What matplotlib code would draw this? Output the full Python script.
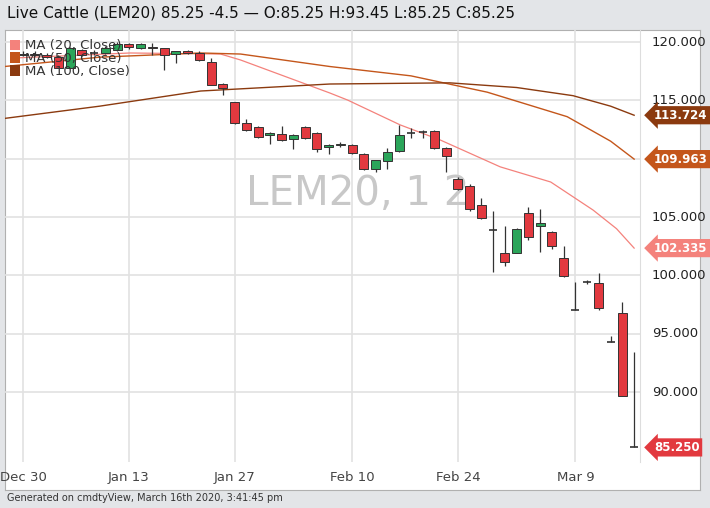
import matplotlib
matplotlib.use("Agg")
import matplotlib.pyplot as plt
from matplotlib.patches import Rectangle

dates = ["Dec 30","Dec 31","Jan 2","Jan 3","Jan 6","Jan 7","Jan 8","Jan 9","Jan 10","Jan 13","Jan 14","Jan 15","Jan 16","Jan 17",
         "Jan 21","Jan 22","Jan 23","Jan 24","Jan 27","Jan 28","Jan 29","Jan 30","Jan 31","Feb 3","Feb 4","Feb 5","Feb 6","Feb 7",
         "Feb 10","Feb 11","Feb 12","Feb 13","Feb 14","Feb 18","Feb 19","Feb 20","Feb 21","Feb 24","Feb 25","Feb 26","Feb 27","Feb 28",
         "Mar 2","Mar 3","Mar 4","Mar 5","Mar 6","Mar 9","Mar 10","Mar 11","Mar 12","Mar 13","Mar 16"]
opens  = [118.9,119.0,118.9,118.7,117.8,119.3,119.1,119.1,119.3,119.8,119.5,119.6,119.5,118.97,119.2,119.1,118.3,116.4,114.85,113.1,112.7,112.0,112.1,111.7,112.7,112.2,111.0,111.2,
          111.2,110.4,109.1,109.8,110.65,112.2,112.3,112.4,110.9,108.3,107.7,106.0,103.85,101.9,101.9,105.35,104.2,103.7,101.5,97.05,99.45,99.35,94.3,96.8,85.25]
highs  = [119.2,119.2,119.1,118.9,119.6,119.4,119.3,119.7,120.0,119.9,119.9,119.9,119.5,119.2,119.3,119.2,118.6,116.5,114.9,113.4,112.8,112.3,112.8,112.1,112.8,112.3,111.3,111.4,
          111.3,110.5,109.8,110.9,112.9,112.6,112.5,112.5,111.0,108.4,107.8,106.6,105.5,104.2,104.1,105.9,105.7,103.8,102.5,99.4,99.6,100.2,94.8,97.7,93.45]
lows   = [118.8,118.8,118.6,118.5,117.8,118.8,118.9,119.0,119.2,119.4,119.4,118.9,117.6,118.2,119.0,118.4,116.3,115.5,113.0,112.4,111.8,111.3,111.5,110.8,111.7,110.6,110.4,111.0,
          110.4,109.0,108.9,109.1,110.6,111.8,111.8,110.8,108.9,107.3,105.5,104.8,100.3,100.8,101.9,103.0,102.0,102.3,99.9,97.0,99.3,97.0,94.3,89.7,85.25]
closes = [119.0,118.9,118.7,117.8,119.5,118.9,119.1,119.5,119.8,119.6,119.8,119.5,118.9,119.2,119.06,118.45,116.3,116.05,113.06,112.45,111.9,112.2,111.6,112.0,111.8,110.8,111.2,111.3,
          110.5,109.1,109.9,110.6,112.0,112.2,112.3,110.9,110.2,107.4,105.7,104.9,103.8,101.15,104.0,103.3,104.5,102.5,99.95,97.0,99.45,97.2,94.3,89.7,85.25]

ma20_x = [-0.77,9.1,16.8,18.5,26.1,27.6,32.1,35.5,40.6,44.9,48.5,50.5,52.0]
ma20_y = [118.63,119.06,118.97,118.46,115.63,115.03,112.89,111.6,109.3,108.0,105.6,104.0,102.335]
ma50_x = [-1.6,6.5,15.1,18.5,26.1,33.0,39.5,46.3,50.0,52.0]
ma50_y = [117.9,118.7,119.06,118.97,117.9,117.1,115.7,113.6,111.5,109.963]
ma100_x = [-1.6,6.5,15.1,26.1,36.3,42.0,46.8,50.0,52.0]
ma100_y = [113.45,114.5,115.8,116.4,116.5,116.1,115.4,114.5,113.724]

tick_idx = [0,9,18,28,37,47]
tick_lab = ["Dec 30","Jan 13","Jan 27","Feb 10","Feb 24","Mar 9"]
yticks = [90,95,100,105,110,115,120]

RED, GREEN = "#e2393f", "#2ba55a"
C20, C50, C100 = "#f4827c", "#c4561b", "#8b3a0f"

W, H = 710, 508
fig = plt.figure(figsize=(W/100, H/100), dpi=100, facecolor="#e3e5e8")
bg = fig.add_axes([5/W, 18/H, 695/W, 460/H], zorder=0)
bg.set_facecolor("white")
bg.set_xticks([]); bg.set_yticks([])
for s in bg.spines.values():
    s.set_color("#b0b0b0"); s.set_linewidth(0.8)

ax = fig.add_axes([5/W, 46/H, 635/W, 432/H], zorder=1)
ax.patch.set_alpha(0)
ax.set_xlim(-1.55, 52.5)
ax.set_ylim(84.0, 121.03)
for s in ["top", "left", "bottom"]:
    ax.spines[s].set_visible(False)
ax.spines["right"].set_color("#dddddd")
ax.set_xticks(tick_idx)
ax.set_xticklabels([])
ax.set_yticks(yticks)
ax.tick_params(length=0, labelleft=False)
ax.grid(True, color="#e2e2e2", lw=1.2)
ax.set_axisbelow(True)

for i in range(len(dates)):
    o, h, l, c = opens[i], highs[i], lows[i], closes[i]
    col = GREEN if c > o else RED
    ax.vlines(i, l, h, color="#333333", lw=0.9, zorder=3)
    bot, top = min(o, c), max(o, c)
    if top - bot < 0.08:
        ax.hlines(o, i-0.35, i+0.35, color="#333333", lw=1.2, zorder=4)
    else:
        ax.add_patch(Rectangle((i-0.38, bot), 0.76, top-bot, facecolor=col,
                               edgecolor="#333333", lw=0.7, zorder=4))

ax.plot(ma20_x, ma20_y, color=C20, lw=0.9, zorder=2)
ax.plot(ma50_x, ma50_y, color=C50, lw=1.0, zorder=2)
ax.plot(ma100_x, ma100_y, color=C100, lw=1.0, zorder=2)

ax.text(0.555, 0.62, "LEM20, 1 2", transform=ax.transAxes, fontsize=29, color="#c8c8c8",
        ha="center", va="center", zorder=1)

for y in yticks:
    ax.text(1.0 + 12/635, y, f"{y:.3f}", transform=ax.get_yaxis_transform(), fontsize=9.5,
            color="#222222", va="center", ha="left", clip_on=False)
for val, col in [(113.724, C100), (109.963, C50), (102.335, C20), (85.25, RED)]:
    ax.text(1.0 + 14/635, val, f"{val:.3f}", transform=ax.get_yaxis_transform(), fontsize=8.5,
            color="white", fontweight="bold", va="center", ha="left", zorder=6,
            bbox=dict(boxstyle="larrow,pad=0.22", facecolor=col, edgecolor="none"))
for i, lab in zip(tick_idx, tick_lab):
    ax.text(i, -0.035, lab, transform=ax.get_xaxis_transform(), fontsize=9.5,
            color="#444444", ha="center", va="center")

for k, (lab, col) in enumerate([("MA (20, Close)", C20), ("MA (50, Close)", C50), ("MA (100, Close)", C100)]):
    yy = 0.965 - k*0.03
    ax.add_patch(Rectangle((0.008, yy-0.011), 0.016, 0.024, transform=ax.transAxes,
                           facecolor=col, edgecolor="none", zorder=7))
    ax.text(0.032, yy, lab, transform=ax.transAxes, fontsize=9.5, color="#333333",
            va="center", ha="left", zorder=7)

fig.text(7/W, 1 - 13/H, "Live Cattle (LEM20) 85.25 -4.5 \u2014 O:85.25 H:93.45 L:85.25 C:85.25",
         fontsize=11, color="#111111", va="center", ha="left")
fig.text(7/W, 1 - 498/H, "Generated on cmdtyView, March 16th 2020, 3:41:45 pm",
         fontsize=7, color="#333333", va="center", ha="left")

fig.savefig("out.png", dpi=100, facecolor=fig.get_facecolor())
